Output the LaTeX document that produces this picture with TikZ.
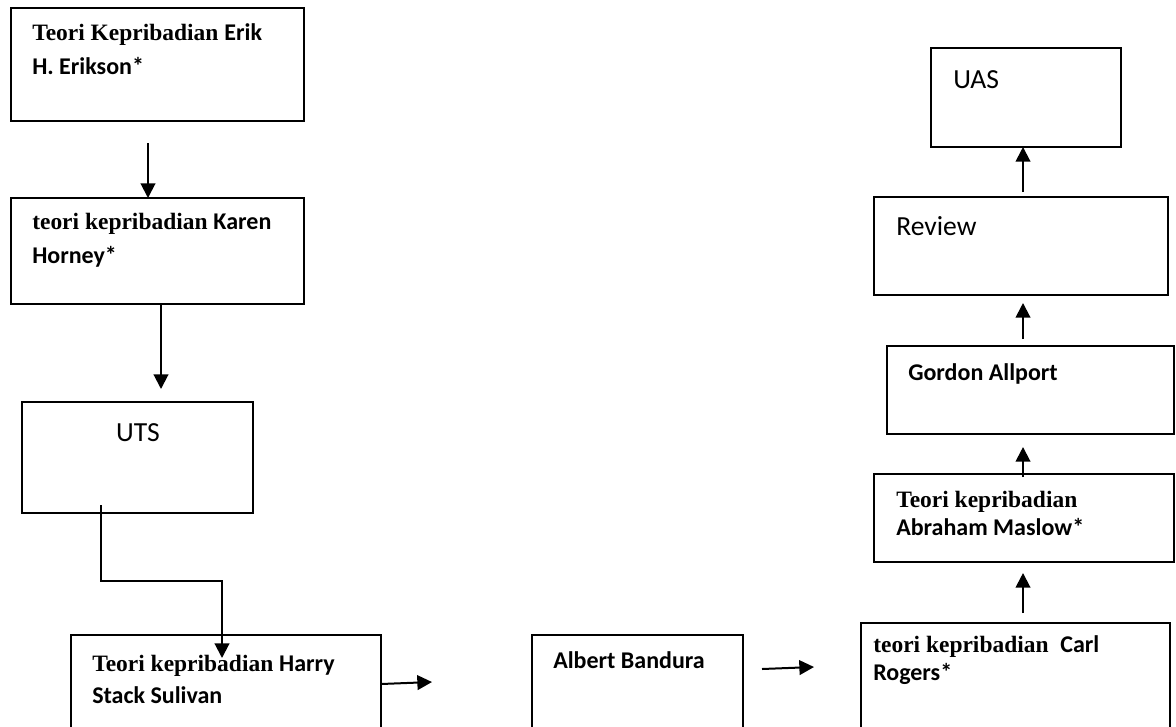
\documentclass[tikz,border=0pt]{standalone}
\usepackage{fontspec}
\setmainfont{Liberation Serif}
\newfontfamily\calfam{Carlito}
\usetikzlibrary{arrows.meta,fit}
\newcommand\serb[1]{{\fontsize{17.6}{20}\selectfont\bfseries #1}}
\newcommand\calb[1]{{\calfam\fontsize{18}{20}\selectfont\bfseries #1}}
\newcommand\calr[1]{{\calfam\fontsize{20.7}{24}\selectfont #1}}
\begin{document}
\begin{tikzpicture}[x=0.75pt,y=-0.75pt,
  box/.style={draw=black, line width=1.5pt, inner sep=0pt, fill=none},
  lbl/.style={anchor=base west, inner sep=0pt, text=black},
  conn/.style={draw=black, line width=1.5pt},
  arr/.style={conn, -{Triangle[length=11pt,width=11pt]}}]
\fill[white] (0,0) rectangle (1176,726);
\useasboundingbox (0,0) rectangle (1176,726);
% boxes
\node[box, fit={(11,8)(304,121)}] (erik) {};
\node[box, fit={(11,198)(304,304)}] (horney) {};
\node[box, fit={(22,402)(253,513)}] (uts) {};
\node[box, fit={(71,635)(381,745)}] (sullivan) {};
\node[box, fit={(532,635)(743,745)}] (bandura) {};
\node[box, fit={(861,623)(1170,745)}] (rogers) {};
\node[box, fit={(874,474)(1174,562)}] (maslow) {};
\node[box, fit={(887,346)(1174,434)}] (allport) {};
\node[box, fit={(874,197)(1168,295)}] (review) {};
\node[box, fit={(931,48)(1121,147)}] (uas) {};
% texts
\node[lbl] (erikA) at (32,40) {\serb{Teori Kepribadian }\calb{Erik}};
\node[lbl] (erikB) at (32,74) {\calb{H. Erikson*}};
\node[lbl] (horA) at (32,229) {\serb{teori kepribadian }\calb{Karen}};
\node[lbl] (horB) at (32,263) {\calb{Horney*}};
\node[anchor=base, inner sep=0pt] (utsT) at (138,441) {\calr{UTS}};
\node[lbl] (sulA) at (92,671) {\serb{Teori kepribadian }\calb{Harry}};
\node[lbl] (sulB) at (92,703) {\calb{Stack Sulivan}};
\node[lbl] (banA) at (553,668) {\calb{Albert Bandura}};
\node[lbl] (rogA) at (873,652) {\serb{teori kepribadian\ \ }\calb{Carl}};
\node[lbl] (rogB) at (873,680) {\calb{Rogers*}};
\node[lbl] (masA) at (896,507) {\serb{Teori kepribadian}};
\node[lbl] (masB) at (896,535) {\calb{Abraham Maslow*}};
\node[lbl] (allA) at (908,380) {\calb{Gordon Allport}};
\node[lbl] (revT) at (896,235) {\calr{Review}};
\node[lbl] (uasT) at (953,88) {\calr{UAS}};
% connector end points
\coordinate (c1s) at (148,143); \coordinate (c1e) at (148,198);
\coordinate (c2s) at (161,304); \coordinate (c2e) at (161,389);
\coordinate (c3s) at (101,505); \coordinate (c3a) at (101,581);
\coordinate (c3b) at (222,581); \coordinate (c3e) at (222,658);
\coordinate (c4s) at (381,684); \coordinate (c4e) at (432,682);
\coordinate (c5s) at (762,669); \coordinate (c5e) at (814,667);
\coordinate (c6s) at (1023,613); \coordinate (c6e) at (1023,573);
\coordinate (c7s) at (1023,477); \coordinate (c7e) at (1023,447);
\coordinate (c8s) at (1023,339); \coordinate (c8e) at (1023,303);
\coordinate (c9s) at (1023,192); \coordinate (c9e) at (1023,147);
% connectors
\draw[arr] (c1s) -- (c1e);
\draw[arr] (c2s) -- (c2e);
\draw[arr] (c3s) -- (c3a) -- (c3b) -- (c3e);
\draw[arr] (c4s) -- (c4e);
\draw[arr] (c5s) -- (c5e);
\draw[arr] (c6s) -- (c6e);
\draw[arr] (c7s) -- (c7e);
\draw[arr] (c8s) -- (c8e);
\draw[arr] (c9s) -- (c9e);
\end{tikzpicture}
\end{document}
